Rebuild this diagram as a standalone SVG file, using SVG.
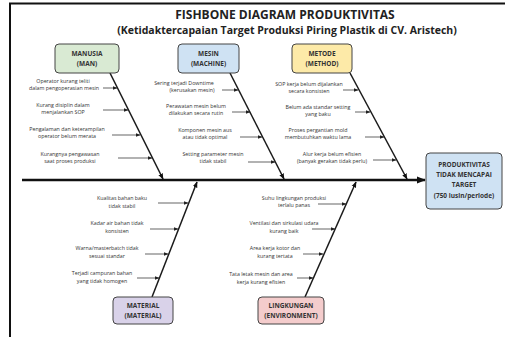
<svg xmlns="http://www.w3.org/2000/svg" width="505" height="337" viewBox="0 0 505 337">
<defs>
<marker id="ah" viewBox="0 0 10 10" refX="9" refY="5" markerWidth="9" markerHeight="9" markerUnits="userSpaceOnUse" orient="auto"><path d="M0,1 L10,5 L0,9 Z" fill="#111"/></marker>
<marker id="as" viewBox="0 0 10 10" refX="9" refY="5" markerWidth="5" markerHeight="5" markerUnits="userSpaceOnUse" orient="auto"><path d="M0,1 L10,5 L0,9 Z" fill="#222"/></marker>
<marker id="ab" viewBox="0 0 10 10" refX="9" refY="5" markerWidth="6" markerHeight="6" markerUnits="userSpaceOnUse" orient="auto"><path d="M0,1 L10,5 L0,9 Z" fill="#111"/></marker>
</defs>
<style>
.t{font-family:"Open Sans","Liberation Sans",sans-serif;font-weight:bold;fill:#222;text-anchor:middle}
.c{font-family:"Open Sans","Liberation Sans",sans-serif;font-weight:bold;font-size:6.5px;fill:#333;text-anchor:middle}
.s{font-family:"Open Sans","Liberation Sans",sans-serif;font-size:5.3px;fill:#333;text-anchor:middle}
.box{stroke:#444;stroke-width:1}
.bone{stroke:#1a1a1a;stroke-width:1.5;fill:none;marker-end:url(#ab)}
.sub{stroke:#222;stroke-width:0.7;fill:none;marker-end:url(#as)}
</style>
<rect width="505" height="337" fill="#fff"/>
<path d="M10,337 V3.5 H505" fill="none" stroke="#111" stroke-width="2"/>
<text class="t" x="285" y="19" font-size="12">FISHBONE DIAGRAM PRODUKTIVITAS</text>
<text class="t" x="287" y="34" font-size="10.5">(Ketidaktercapaian Target Produksi Piring Plastik di CV. Aristech)</text>

<g id="connectors">
<line x1="22" y1="180" x2="425" y2="180" stroke="#111" stroke-width="2.5" marker-end="url(#ah)"/>
<line class="bone" x1="110" y1="73" x2="163" y2="179"/>
<line class="bone" x1="230" y1="73" x2="284" y2="179"/>
<line class="bone" x1="350" y1="73" x2="407" y2="179"/>
<line class="bone" x1="152" y1="297" x2="197" y2="182"/>
<line class="bone" x1="305" y1="297" x2="356" y2="182"/>
<line class="sub" x1="103" y1="88" x2="117" y2="88"/>
<line class="sub" x1="103" y1="110" x2="128" y2="110"/>
<line class="sub" x1="112" y1="135" x2="140" y2="135"/>
<line class="sub" x1="118" y1="158" x2="152" y2="158"/>
<line class="sub" x1="222" y1="90" x2="238" y2="90"/>
<line class="sub" x1="232" y1="112" x2="250" y2="112"/>
<line class="sub" x1="240" y1="137" x2="262" y2="137"/>
<line class="sub" x1="248" y1="162" x2="275" y2="162"/>
<line class="sub" x1="343" y1="90" x2="358" y2="90"/>
<line class="sub" x1="355" y1="112" x2="370" y2="112"/>
<line class="sub" x1="365" y1="137" x2="384" y2="137"/>
<line class="sub" x1="373" y1="160" x2="396" y2="160"/>
<line class="sub" x1="158" y1="203" x2="188" y2="203"/>
<line class="sub" x1="150" y1="229" x2="178" y2="229"/>
<line class="sub" x1="145" y1="254" x2="168" y2="254"/>
<line class="sub" x1="137" y1="278" x2="159" y2="278"/>
<line class="sub" x1="318" y1="204" x2="346" y2="204"/>
<line class="sub" x1="312" y1="229" x2="335" y2="229"/>
<line class="sub" x1="303" y1="254" x2="323" y2="254"/>
<line class="sub" x1="297" y1="278" x2="313" y2="278"/>
</g>

<g id="effect">
<rect class="box" x="426" y="153" width="76" height="56" rx="4" fill="#cfe2f3"/>
<text class="c" x="464" y="167" font-size="7">PRODUKTIVITAS</text>
<text class="c" x="464" y="177" font-size="7">TIDAK MENCAPAI</text>
<text class="c" x="464" y="187" font-size="7">TARGET</text>
<text class="c" x="464" y="198">(750 lusin/periode)</text>
</g>

<g id="manusia">
<rect class="box" x="55" y="44" width="64" height="29" rx="4" fill="#d9ead3"/>
<text class="c" x="87" y="56">MANUSIA</text>
<text class="c" x="87" y="66">(MAN)</text>
<text class="s" x="63" y="83">Operator kurang teliti</text>
<text class="s" x="64" y="90">dalam pengoperasian mesin</text>
<text class="s" x="63" y="107">Kurang disiplin dalam</text>
<text class="s" x="63" y="114">menjalankan SOP</text>
<text class="s" x="67" y="131">Pengalaman dan keterampilan</text>
<text class="s" x="67" y="138">operator belum merata</text>
<text class="s" x="70" y="156">Kurangnya pengawasan</text>
<text class="s" x="70" y="163">saat proses produksi</text>
</g>

<g id="mesin">
<rect class="box" x="178" y="44" width="61" height="29" rx="4" fill="#cfe2f3"/>
<text class="c" x="208.5" y="56">MESIN</text>
<text class="c" x="208.5" y="66">(MACHINE)</text>
<text class="s" x="184" y="85">Sering terjadi Downtime</text>
<text class="s" x="192" y="92">(kerusakan mesin)</text>
<text class="s" x="196" y="108">Perawatan mesin belum</text>
<text class="s" x="196" y="115">dilakukan secara rutin</text>
<text class="s" x="205" y="132">Komponen mesin aus</text>
<text class="s" x="205" y="139">atau tidak optimal</text>
<text class="s" x="213" y="156">Setting parameter mesin</text>
<text class="s" x="213" y="163">tidak stabil</text>
</g>

<g id="metode">
<rect class="box" x="292" y="44" width="60" height="29" rx="4" fill="#fdeaa8"/>
<text class="c" x="322" y="56">METODE</text>
<text class="c" x="322" y="66">(METHOD)</text>
<text class="s" x="309" y="86">SOP kerja belum dijalankan</text>
<text class="s" x="309" y="93">secara konsisten</text>
<text class="s" x="318" y="109">Belum ada standar setting</text>
<text class="s" x="318" y="116">yang baku</text>
<text class="s" x="318" y="132">Proses pergantian mold</text>
<text class="s" x="318" y="139">membutuhkan waktu lama</text>
<text class="s" x="332" y="156">Alur kerja belum efisien</text>
<text class="s" x="332" y="163">(banyak gerakan tidak perlu)</text>
</g>

<g id="material">
<rect class="box" x="113" y="297" width="60" height="27" rx="4" fill="#d9d2e9"/>
<text class="c" x="143" y="308">MATERIAL</text>
<text class="c" x="143" y="318">(MATERIAL)</text>
<text class="s" x="122" y="200">Kualitas bahan baku</text>
<text class="s" x="122" y="208">tidak stabil</text>
<text class="s" x="117" y="225">Kadar air bahan tidak</text>
<text class="s" x="117" y="233">konsisten</text>
<text class="s" x="107" y="250">Warna/masterbatch tidak</text>
<text class="s" x="107" y="258">sesuai standar</text>
<text class="s" x="102" y="275">Terjadi campuran bahan</text>
<text class="s" x="102" y="283">yang tidak homogen</text>
</g>

<g id="lingkungan">
<rect class="box" x="258" y="297" width="66" height="27" rx="4" fill="#f4cccc"/>
<text class="c" x="291" y="308">LINGKUNGAN</text>
<text class="c" x="291" y="318">(ENVIRONMENT)</text>
<text class="s" x="294" y="200">Suhu lingkungan produksi</text>
<text class="s" x="294" y="207">terlalu panas</text>
<text class="s" x="284" y="225">Ventilasi dan sirkulasi udara</text>
<text class="s" x="284" y="233">kurang baik</text>
<text class="s" x="275" y="250">Area kerja kotor dan</text>
<text class="s" x="275" y="258">kurang tertata</text>
<text class="s" x="261" y="276">Tata letak mesin dan area</text>
<text class="s" x="261" y="284">kerja kurang efisien</text>
</g>
</svg>
